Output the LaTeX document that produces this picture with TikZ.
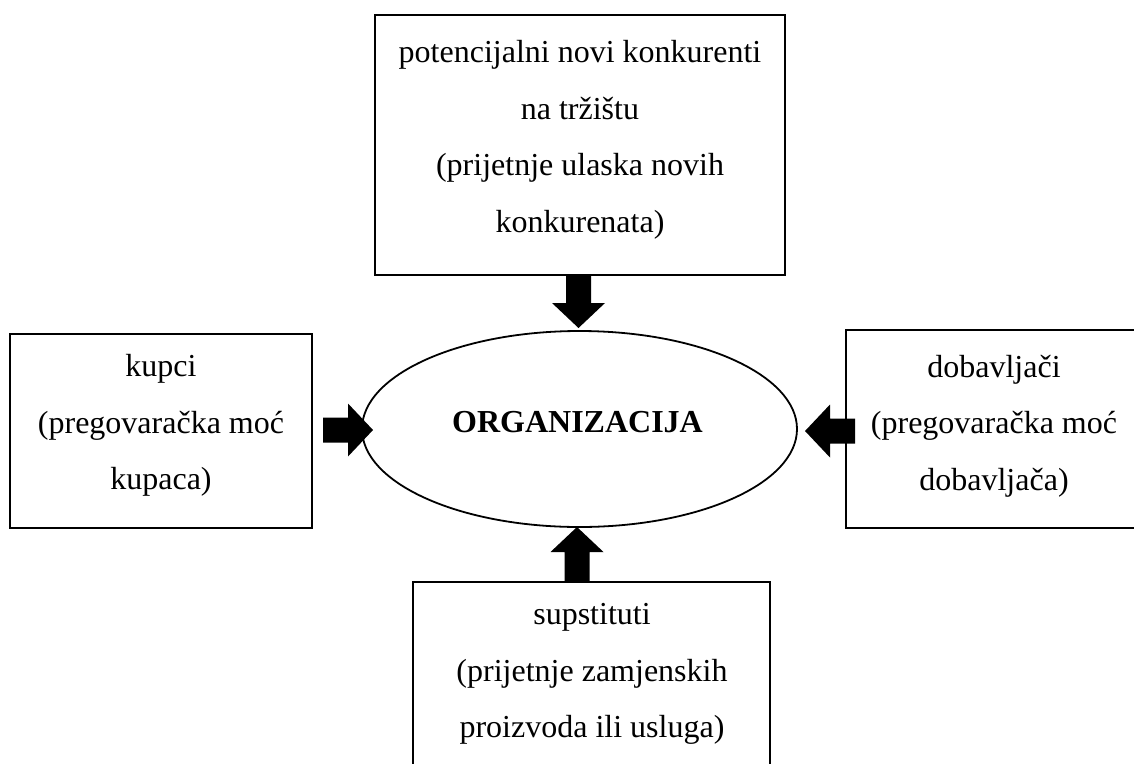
\documentclass[tikz,border=0pt]{standalone}
\usepackage{fontspec}
\setmainfont{Liberation Serif}
\usetikzlibrary{shapes.geometric}
\newcommand\blockarr[3]{%
  \fill[shift={(#1)}, rotate=#2] (0,-12.5) -- (#3-25,-12.5) -- (#3-25,-26.5) -- (#3,0) -- (#3-25,26.5) -- (#3-25,12.5) -- (0,12.5) -- cycle;}
\begin{document}
\begin{tikzpicture}[x=1pt,y=-1pt,
  box/.style={draw, line width=1.8pt, inner sep=0pt},
  txt/.style={align=center, inner sep=0pt, font=\fontsize{32}{56.5}\selectfont},
  ell/.style={draw, ellipse, line width=1.8pt, inner sep=0pt}]
\useasboundingbox (0,0) rectangle (1134,763);
% boxes
\node[box, minimum width=410pt, minimum height=260pt] (top) at (580,145) {};
\node[box, minimum width=302pt, minimum height=194pt] (left) at (161,431) {};
\node[box, minimum width=296pt, minimum height=198pt] (right) at (994,429) {};
\node[box, minimum width=357pt, minimum height=218pt] (bottom) at (591.5,691) {};
\node[ell, minimum width=435pt, minimum height=196pt] (org) at (579.5,429) {};
% texts
\node[txt] (toptxt) at (580,139.6) {potencijalni novi konkurenti\\na tržištu\\(prijetnje ulaska novih\\konkurenata)};
\node[txt] (lefttxt) at (161,425.5) {kupci\\(pregovaračka moć\\kupaca)};
\node[txt] (righttxt) at (994,426) {dobavljači\\(pregovaračka moć\\dobavljača)};
\node[txt] (bottomtxt) at (592,674) {supstituti\\(prijetnje zamjenskih\\proizvoda ili usluga)};
\node[txt, font=\fontsize{32}{38}\selectfont\bfseries] (orgtxt) at (577.5,422) {ORGANIZACIJA};
% arrows
\coordinate (atop) at (578.5,274);
\coordinate (aleft) at (323,430);
\coordinate (aright) at (855,431);
\coordinate (abottom) at (577,582);
\blockarr{atop}{-90}{54}
\blockarr{aleft}{0}{50}
\blockarr{aright}{180}{50}
\blockarr{abottom}{90}{55}
\end{tikzpicture}
\end{document}
